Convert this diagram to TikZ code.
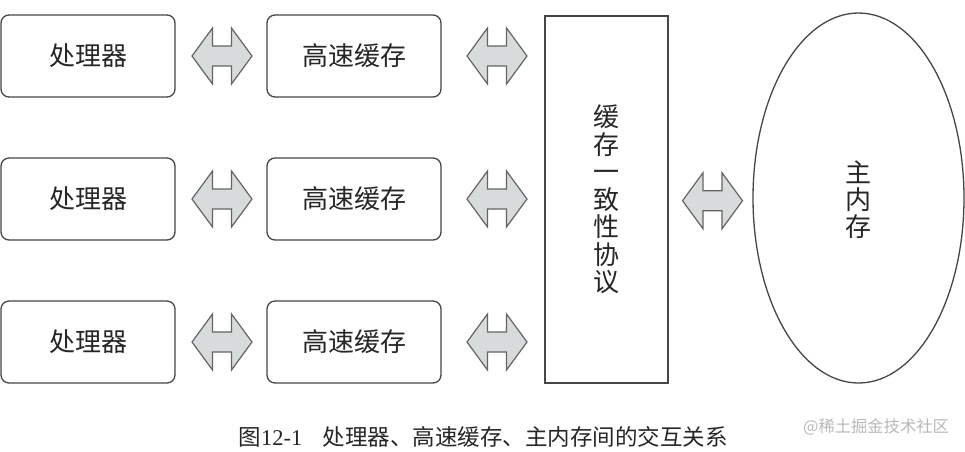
\documentclass[tikz,border=0pt]{standalone}
\usepackage{fontspec}
\setmainfont{Liberation Serif}
\newfontfamily\cjk{Noto Sans CJK SC}
\usetikzlibrary{calc,shapes.geometric}
\definecolor{boxgray}{RGB}{70,70,70}
\definecolor{arrline}{RGB}{100,100,100}
\definecolor{arrfill}{RGB}{216,219,219}
\definecolor{wmgray}{RGB}{185,185,185}
\tikzset{
  unit/.style={draw=boxgray, line width=1.3pt, rounded corners=8pt,
    minimum width=174pt, minimum height=82pt, inner sep=0pt,
    font=\cjk\fontsize{26}{27}\selectfont, text=black!85},
  protobox/.style={draw=boxgray, line width=1.3pt, minimum width=123pt,
    minimum height=367pt, inner sep=0pt, align=center,
    font=\cjk\fontsize{26}{27.5}\selectfont, text=black!85},
  membox/.style={draw=boxgray, line width=1.3pt, ellipse, minimum width=211pt,
    minimum height=370pt, inner sep=0pt, align=center,
    font=\cjk\fontsize{26}{27}\selectfont, text=black!85},
  arrowshape/.style={draw=arrline, fill=arrfill, line width=1.2pt, line join=miter},
  dbl/.pic={\path[arrowshape] (-30,0) -- (-9.5,-28) -- (-9.5,-10) -- (9.5,-10)
      -- (9.5,-28) -- (30,0) -- (9.5,28) -- (9.5,10) -- (-9.5,10) -- (-9.5,28) -- cycle;}
}
\begin{document}
\begin{tikzpicture}[x=1pt,y=-1pt]
\useasboundingbox[fill=white] (0,0) rectangle (965,451);
\node[unit] (p1) at (88,56) {处理器};
\node[unit] (p2) at (88,199) {处理器};
\node[unit] (p3) at (88,342) {处理器};
\node[unit] (c1) at (354,56) {高速缓存};
\node[unit] (c2) at (354,199) {高速缓存};
\node[unit] (c3) at (354,342) {高速缓存};
\node[protobox] (proto) at (606.5,199.5) {缓\\存\\一\\致\\性\\协\\议};
\node[membox] (mem) at (858.5,198) {\\[-2pt]主\\内\\存};
\foreach \i in {1,2,3}{
  \pic at ($(p\i.east)!0.5!(c\i.west)+(1,0)$) {dbl};
  \pic at ($(c\i.east)!0.5!(proto.west |- c\i.east)+(4,0)$) {dbl};
}
\pic at ($(proto.east)!0.5!(mem.west)+(2,2)$) {dbl};
\node[font=\fontsize{22.5}{24}\selectfont, text=black!85] (cap) at (483,437)
  {{\cjk 图}12-1\hspace{0.9em}{\cjk 处理器、高速缓存、主内存间的交互关系}};
\node[font=\cjk\fontsize{16.3}{17}\selectfont, text=wmgray] (wm) at (876,427) {@稀土掘金技术社区};
\end{tikzpicture}
\end{document}
